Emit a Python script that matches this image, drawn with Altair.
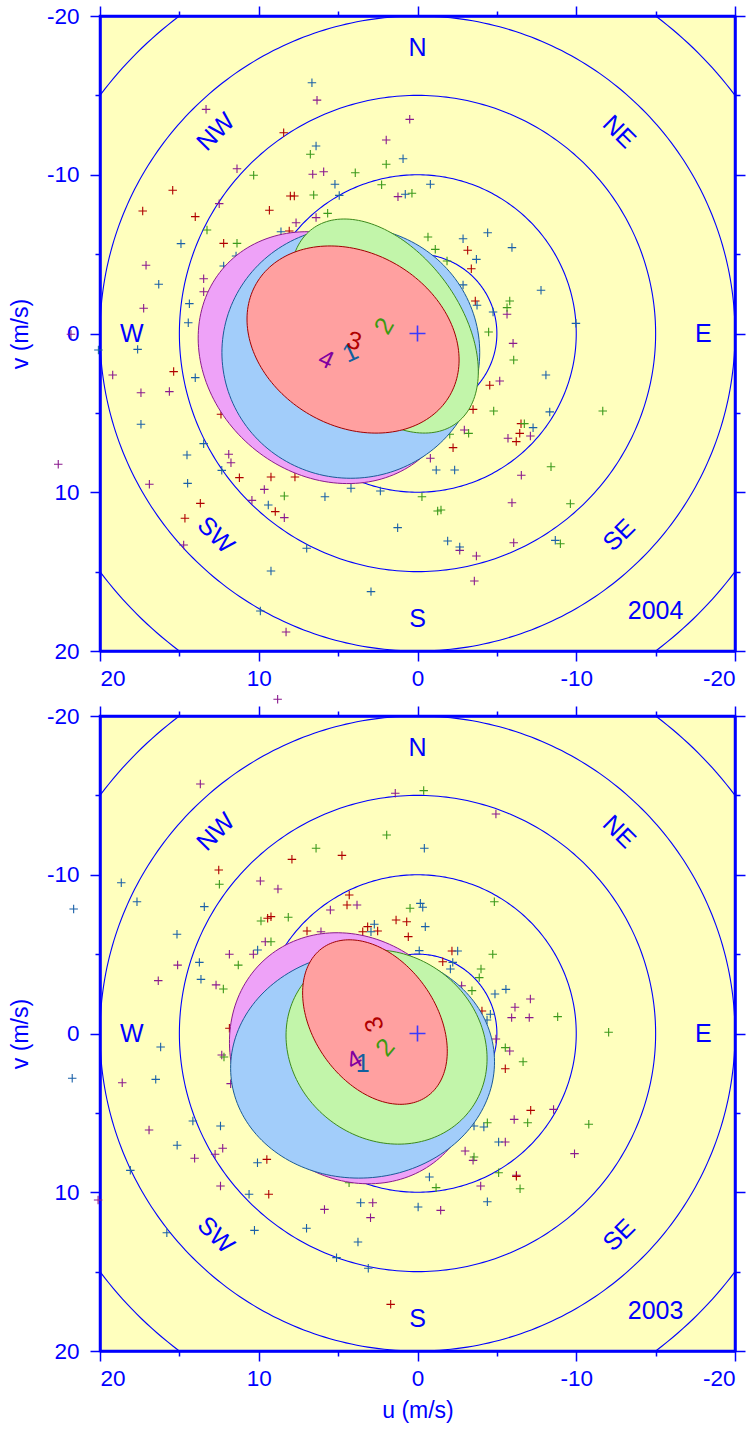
import altair as alt
import pandas as pd
import numpy as np

FONT = "Liberation Sans"
AX = "#0000ff"
BG = "#ffffbe"

TICKS = list(range(-20, 21, 5))
RINGS = [5, 10, 15, 20, 25]

DIR_TEXT = ["N", "NE", "E", "SE", "S", "SW", "W", "NW"]
DIR_U = [0, -12.7, -18, -12.7, 0, 12.7, 18, 12.7]
DIR_V = [-18, -12.7, 0, 12.7, 18, 12.7, 0, -12.7]
DIR_ANG = [0, 45, 0, 315, 0, 45, 0, 315]

SERIES = ["4", "3", "2", "1"]
PT_COLORS = ["#8a1a8e", "#b00000", "#3c9a1c", "#1a60a8"]

# ---------------- 2004 scatter (u, v) ----------------
P04_4_U = [6.33, 13.32, 11.37, 6.6, 5.91, 12.49, 6.39, 7.65, 17.1, 13.47, 13.47, 17.25, 21.83, 0.49, 1.97, 1.23,
           -5.64, -6.02, -5.18, -2.95, -5.7, -7.11, -0.81, -6.54, -5.95, -2.66, -3.71, -6.06, -3.58, 19.2, 17.42,
           15.63, 11.89, 11.75, 22.63, 16.89, 10.43, 9.65, 8.39, 14.73, 8.28, 8.81]
P04_4_V = [-14.7, -14.12, -10.38, -10.03, -10.19, -8.18, -7.3, -6.98, -4.3, -3.45, -2.63, -1.59, 0.05, -13.49, -12.19,
           -8.62, -1.21, 0.62, 2.99, 6.08, 6.6, 6.46, 7.86, 8.93, 10.66, 13.66, 14.02, 13.18, 15.59, 2.61, 3.73,
           3.66, 7.61, 8.14, 8.24, 9.5, 10.51, 9.82, 11.6, 13.32, 18.8, 23.04]
P04_3_U = [8.43, 15.42, 17.31, 14.0, 8.01, 7.76, 9.33, 12.21, 8.08, -3.16, -3.39, -3.64, -4.55, -3.5, -6.52, -6.44,
           -6.22, -2.24, 15.36, 11.22, 9.23, 7.72, 13.68, 8.96, 14.65, 12.38]
P04_3_V = [-12.65, -9.02, -7.72, -7.36, -8.66, -8.66, -7.76, -5.68, -6.46, -5.24, -4.08, -2.05, 3.26, 4.78, 5.68,
           6.29, 6.81, 7.19, 2.4, 9.08, 9.04, 9.04, 10.7, 11.22, 11.64, 5.09]
P04_2_U = [6.75, 10.32, 3.92, 6.54, 5.66, 13.26, 11.37, 1.97, 2.26, 0.35, -0.66, -1.12, -1.86, -5.81, -5.64, -4.48,
           -6.06, -4.8, -11.67, -6.73, -3.22, -2.03, -8.41, -0.28, -9.63, -1.27, -1.48, -9.0, 8.39]
P04_2_V = [-11.29, -9.97, -10.13, -8.72, -7.57, -6.52, -5.68, -10.66, -9.37, -8.83, -6.08, -5.3, -4.57, -2.05, -1.63,
           -0.09, 1.67, 4.88, 4.88, 5.68, 6.29, 6.35, 8.39, 10.28, 10.72, 11.18, 11.12, 13.24, 10.24]
P04_1_U = [6.65, 6.39, 5.2, 4.93, 14.9, 8.6, 12.21, 11.43, 16.3, 14.37, 14.44, 0.91, -0.81, 0.77, -2.87, -4.42,
           -5.95, -3.71, -2.87, -7.78, -3.75, -4.76, -9.98, -8.09, -8.33, -7.28, -1.18, -2.34, 2.34, 1.25, -1.9,
           -2.66, -8.68, 20.1, 17.63, 14.0, 17.42, 13.47, 14.52, 12.33, 14.48, 5.83, 4.19, 9.4, 6.98, 9.23, 2.93, 9.9]
P04_1_V = [-15.8, -11.81, -9.4, -8.7, -5.66, -6.41, -4.25, -4.88, -3.1, -1.88, -0.68, -11.01, -9.4, -8.77, -5.97,
           -6.35, -5.41, -4.67, -3.06, -2.72, -1.78, -1.35, -0.64, 2.61, 4.94, 5.93, 8.6, 8.6, 9.92, 12.23, 13.07,
           13.45, 13.03, 1.04, 1.0, 2.78, 5.72, 6.94, 7.65, 8.62, 9.44, 10.28, 9.75, 10.8, 13.53, 14.96, 16.26, 17.48]

# ---------------- 2003 scatter (u, v) ----------------
P03_4_U = [13.68, 1.4, 9.9, 8.79, 3.81, 5.49, 6.08, 9.59, 11.85, 10.34, 15.11, 16.33, 12.69, -4.94, -2.78, -7.11,
           -6.14, -5.93, -7.04, -4.94, 12.33, 18.6, 11.77, 16.91, 12.27, 12.75, 14.04, 12.41, 20.12, 2.82, 5.86,
           2.96, -1.46, -3.98, -6.23, -3.0, -3.5, -5.53, -9.89, -6.09, -8.57, -5.81]
P03_4_V = [-15.72, -15.13, -9.61, -9.1, -8.09, -7.78, -6.41, -5.78, -4.99, -4.99, -4.31, -3.33, -3.06, -13.83, -3.01,
           -2.17, -1.65, -1.0, -1.0, 0.35, 1.35, 3.1, 3.16, 6.08, 7.23, 7.61, 7.86, 9.61, 10.49, 10.66, 11.08,
           11.6, 11.14, 9.61, 8.93, 7.4, 7.99, 6.83, 7.57, 5.41, 4.78, 1.1]
P03_3_U = [7.91, 4.76, 12.52, 4.3, 4.44, 9.44, 9.23, 1.35, 0.68, 0.58, 6.96, 3.14, 2.51, 3.45, -2.17, -1.59, -4.06,
           9.49, 9.37, -6.23, -7.13, -5.53, 1.69, 11.85]
P03_3_V = [-10.97, -11.22, -10.3, -8.72, -8.09, -7.26, -7.36, -7.15, -7.04, -6.1, -6.46, -6.73, -6.46, -6.41, -5.2,
           -4.52, -1.42, 7.93, 10.13, 9.0, 4.84, 2.22, 17.06, -0.33]
P03_2_U = [1.94, 6.39, 12.48, 0.47, 9.86, 8.14, 9.23, 11.29, 12.23, -0.39, -4.84, -4.74, -4.0, -3.89, -3.43, -8.83,
           -12.04, 12.19, -1.17, -5.11, -6.46, -3.56, -4.4, -6.94, -10.79, -6.65, -5.53, 4.31]
P03_2_V = [-12.5, -11.67, -9.4, -7.89, -7.09, -7.32, -5.78, -4.31, -2.8, -15.3, -8.3, -4.99, -4.06, -3.52, -2.7,
           -1.06, -0.08, 1.48, 9.71, 8.77, 9.78, 7.78, 5.62, 5.62, 5.72, 1.78, 0.89, 9.4]
P03_1_U = [18.66, 21.66, 17.67, 13.43, -0.18, 2.72, 2.93, 15.15, 10.07, 13.74, 13.64, -0.11, -0.43, -0.33, -0.49,
           -2.53, -2.22, -2.07, -4.88, -5.57, -4.59, -4.38, 16.18, 21.75, 16.49, 14.15, 12.41, 15.14, 10.08, 18.09,
           10.61, 3.58, -0.04, -4.4, -0.75, -5.11, -3.56, -4.18, 6.99, 10.27, 15.79, 3.75, 5.1, 3.1]
P03_1_V = [-9.5, -7.84, -8.3, -7.99, -8.2, -6.88, -6.41, -6.25, -5.26, -4.48, -3.41, -5.22, -11.67, -7.95, -6.73,
           -5.2, -4.48, -4.06, -2.49, -2.78, -1.21, -0.85, 0.85, 2.82, 2.89, 5.51, 5.83, 7.04, 8.14, 8.62, 10.13,
           10.66, 10.93, 10.6, 9.04, 6.83, 5.83, 5.89, 12.27, 12.4, 12.55, 13.13, 14.12, 14.79]

# ---------------- ellipses: centre u, centre v, semi-axes a, b, tilt (deg) ----------------
ELL_FILL = ["#eea2f8", "#a2cdfa", "#c2f5aa", "#ffa0a0"]
ELL_STROKE = ["#8a1a8e", "#1a5a96", "#3c8a1c", "#a00000"]
E04_U = [5.66, 4.2, 2.09, 4.06]
E04_V = [1.52, 1.2, -0.47, 0.38]
E04_A = [8.66, 8.12, 7.62, 7.04]
E04_B = [7.38, 7.92, 4.74, 5.46]
E04_T = [40, 0, 53.5, 30]
E03_U = [4.08, 3.46, 1.95, 2.68]
E03_V = [1.56, 1.98, 0.85, -0.72]
E03_A = [8.33, 8.32, 6.6, 5.72]
E03_B = [7.31, 7.12, 5.83, 3.86]
E03_T = [49, -5, 37, 55]

# ellipse number labels
LAB_TEXT = ["4", "1", "3", "2"]
LAB_COLORS = ["#8000a0", "#1060a0", "#b00000", "#3c9a10"]
L04_U = [5.76, 4.23, 3.98, 2.09]
L04_V = [1.63, 1.21, 0.47, -0.47]
L04_ANG = [25, 335, 15, 300]
L03_U = [3.98, 3.45, 2.72, 2.03]
L03_V = [1.69, 1.94, -0.58, 0.89]
L03_ANG = [330, 0, 250, 310]

CROSS = "M-1,0L1,0M0,-1L0,1"
XS = alt.Scale(domain=[-20, 20], reverse=True, nice=False, zero=False)
YS = alt.Scale(domain=[-20, 20], reverse=True, nice=False, zero=False)
TICK_COND = {"condition": {"test": "datum.value % 10 === 0", "value": 10}, "value": 5}


def axis(orient, labels=True, title="", tpad=10, lpad=11):
    return alt.Axis(orient=orient, values=TICKS, tickSize=TICK_COND, tickColor=AX, tickWidth=1.5,
                    domainColor=AX, domainWidth=2.5, labelColor=AX, labelFont=FONT, labelFontSize=22.5,
                    labelExpr="datum.value % 10 === 0 ? '' + datum.value : ''", labelOverlap=False,
                    labelPadding=lpad, labels=labels, grid=False, title=title, titleColor=AX,
                    titleFont=FONT, titleFontSize=23, titleFontWeight="normal", titlePadding=tpad)


def ring_df():
    t = np.linspace(0, 2 * np.pi, 361)
    parts = []
    for r in RINGS:
        parts.append(pd.DataFrame({"ring": r, "i": np.arange(len(t)), "u": r * np.cos(t), "v": r * np.sin(t)}))
    return pd.concat(parts, ignore_index=True)


def ellipse_df(uc, vc, a, b, th):
    t = np.linspace(0, 2 * np.pi, 181)
    c, s = np.cos(np.radians(th)), np.sin(np.radians(th))
    dx = a * np.cos(t) * c - b * np.sin(t) * s
    dy = a * np.cos(t) * s + b * np.sin(t) * c
    return pd.DataFrame({"i": np.arange(len(t)), "u": uc - dx, "v": vc + dy})


def panel(year, pts, eu, ev, ea, eb, et, lu, lv, lang, xtitle):
    rings = alt.Chart(ring_df()).mark_line(clip=True, color=AX, strokeWidth=1.1).encode(
        x=alt.X("u:Q", scale=XS, axis=axis("bottom", True, xtitle, 10, 6)),
        y=alt.Y("v:Q", scale=YS, axis=axis("left", True, "v (m/s)", 14, 11)),
        detail="ring:N", order=alt.Order("i:Q"))

    rows = []
    for name, (us, vs) in zip(SERIES, pts):
        for u, v in zip(us, vs):
            rows.append({"s": name, "u": u, "v": v})
    pdf = pd.DataFrame(rows)
    points = alt.Chart(pdf).mark_point(shape=CROSS, filled=False, strokeWidth=1.1, size=72, opacity=1).encode(
        x=alt.X("u:Q", scale=XS, axis=None), y=alt.Y("v:Q", scale=YS, axis=None),
        color=alt.Color("s:N", scale=alt.Scale(domain=SERIES, range=PT_COLORS), legend=None))

    layers = [rings, points]
    for k in range(4):
        edf = ellipse_df(eu[k], ev[k], ea[k], eb[k], et[k])
        layers.append(alt.Chart(edf).mark_line(fill=ELL_FILL[k], stroke=ELL_STROKE[k], strokeWidth=1,
                                               fillOpacity=1).encode(
            x=alt.X("u:Q", scale=XS, axis=None), y=alt.Y("v:Q", scale=YS, axis=None),
            order=alt.Order("i:Q")))

    ddf = pd.DataFrame({"t": DIR_TEXT, "u": DIR_U, "v": DIR_V, "a": DIR_ANG})
    layers.append(alt.Chart(ddf).mark_text(font=FONT, fontSize=25, color=AX, align="center",
                                           baseline="middle").encode(
        x=alt.X("u:Q", scale=XS, axis=None), y=alt.Y("v:Q", scale=YS, axis=None),
        text="t:N", angle=alt.Angle("a:Q", scale=None)))

    ydf = pd.DataFrame({"t": [year], "u": [-15.0], "v": [17.5]})
    layers.append(alt.Chart(ydf).mark_text(font=FONT, fontSize=25, color=AX, align="center",
                                           baseline="middle").encode(
        x=alt.X("u:Q", scale=XS, axis=None), y=alt.Y("v:Q", scale=YS, axis=None), text="t:N"))

    ldf = pd.DataFrame({"t": LAB_TEXT, "u": lu, "v": lv, "a": lang})
    layers.append(alt.Chart(ldf).mark_text(font=FONT, fontSize=25, align="center", baseline="middle").encode(
        x=alt.X("u:Q", scale=XS, axis=None), y=alt.Y("v:Q", scale=YS, axis=None),
        text="t:N", angle=alt.Angle("a:Q", scale=None),
        color=alt.Color("t:N", scale=alt.Scale(domain=LAB_TEXT, range=LAB_COLORS), legend=None)))

    odf = pd.DataFrame({"u": [0.0], "v": [0.0]})
    layers.append(alt.Chart(odf).mark_point(shape=CROSS, filled=False, strokeWidth=1.6, size=256,
                                            color="#3a3aff", opacity=1).encode(
        x=alt.X("u:Q", scale=XS, axis=axis("top", False, "", 0)),
        y=alt.Y("v:Q", scale=YS, axis=axis("right", False, "", 0))))

    return alt.layer(*layers).resolve_axis(x="independent", y="independent").resolve_scale(
        color="independent").properties(width=635, height=635)


top = panel("2004", [(P04_4_U, P04_4_V), (P04_3_U, P04_3_V), (P04_2_U, P04_2_V), (P04_1_U, P04_1_V)],
            E04_U, E04_V, E04_A, E04_B, E04_T, L04_U, L04_V, L04_ANG, "")
bottom = panel("2003", [(P03_4_U, P03_4_V), (P03_3_U, P03_3_V), (P03_2_U, P03_2_V), (P03_1_U, P03_1_V)],
               E03_U, E03_V, E03_A, E03_B, E03_T, L03_U, L03_V, L03_ANG, "u (m/s)")

chart = alt.vconcat(top, bottom, spacing=65, bounds="flush").properties(
    padding={"left": 8, "top": 3, "right": 2, "bottom": 0}, background="white"
).configure_view(fill=BG, stroke=AX, strokeWidth=2.5)

chart.save("out.html", embed_options={"renderer": "svg", "actions": False})
